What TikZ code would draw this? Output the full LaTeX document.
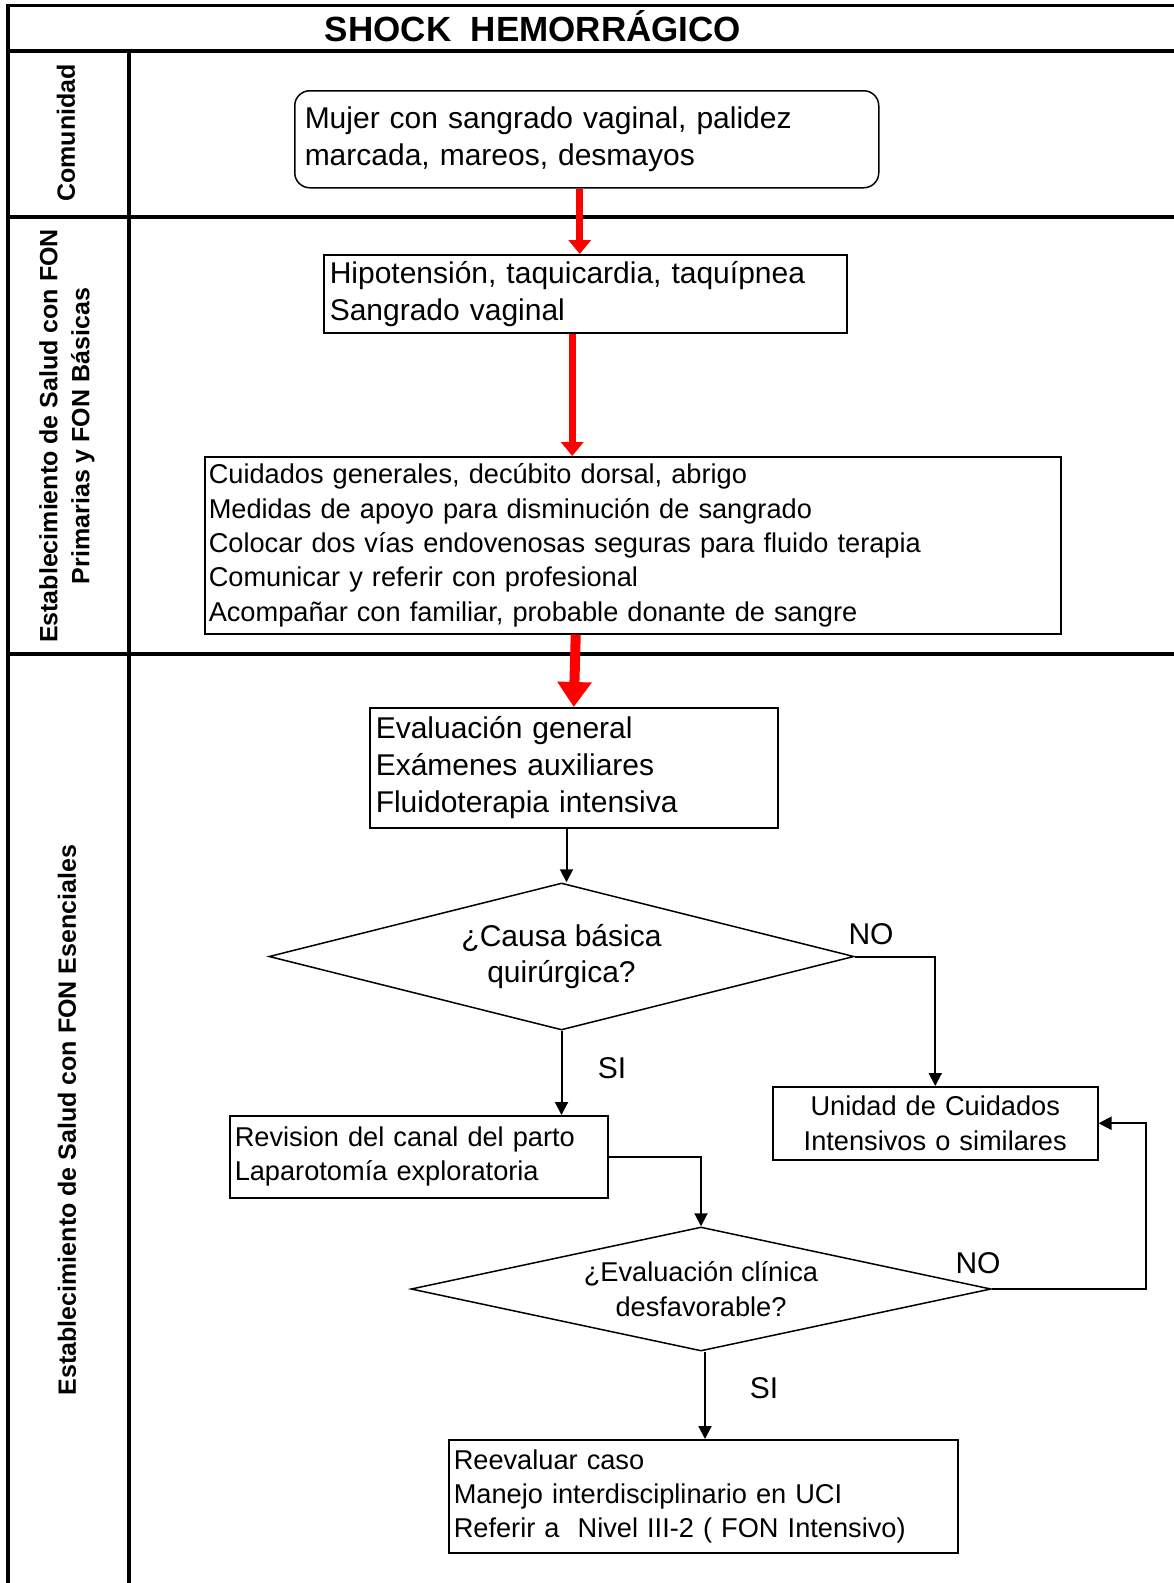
\documentclass[tikz,border=0pt]{standalone}
\usepackage{fontspec}
\setmainfont{Liberation Sans}
\usetikzlibrary{shapes.geometric,arrows.meta,calc}

\tikzset{
	caja/.style={draw, line width=1.5pt, anchor=north west, align=left, inner ysep=2pt, font=\fontsize{30}{37}\selectfont},
	cajachica/.style={caja, font=\fontsize{27.2}{34.3}\selectfont},
	rombo/.style={draw, diamond, line width=1.5pt, inner sep=0pt, align=center},
	roja/.style={draw=red, line width=7pt, -{Triangle[width=22pt,length=14pt]}},
	negra/.style={line width=2pt, -{Triangle[width=13pt,length=13pt]}},
	carril/.style={line width=4pt},
	etiqueta/.style={rotate=90, align=center, font=\bfseries\fontsize{25}{32}\selectfont}
}

\begin{document}
\begin{tikzpicture}[x=1pt,y=-1pt]
				\useasboundingbox (0,0) rectangle (1174,1583);
				\coordinate (SupIzq) at (8,5);
				\coordinate (SupDer) at (1174,5);
				\draw [line width=3pt] (SupIzq) -- (SupDer);% linea superior
				\draw [carril] (8,50.5) -- (1174,50.5);% bajo el titulo
				\draw [carril] (8,3.5) -- (8,1583);% borde izquierdo
				\draw [carril] (129,50.5) -- (129,1583);% columna de etiquetas
				\draw [carril] (8,217) -- (1174,217);
				\draw [carril] (8,654) -- (1174,654);
				
				\node[anchor=base, font=\bfseries\fontsize{35}{40}\selectfont] (titulo) at (533,41) {SHOCK\ \ HEMORRÁGICO};
				
				% etiquetas de los carriles
				\node[etiqueta] (comunidad) at (66,133) {Comunidad};
				\node[etiqueta] (primarias) at (67,436) {Establecimiento de Salud con FON\\Primarias y FON Básicas};
				\node[etiqueta] (esenciales) at (67,1120) {Establecimiento de Salud con FON Esenciales};
				
				% cajas
				\node[caja, rounded corners=15pt, inner xsep=10pt, text width=564pt, minimum height=97pt] (mujer) at (294,90) {Mujer con sangrado vaginal, palidez\\marcada, mareos, desmayos\\[6pt]};
				\node[caja, inner xsep=6pt, text width=511pt, minimum height=78pt] (hipo) at (323,254) {Hipotensión, taquicardia, taquípnea\\Sangrado vaginal};
				\node[cajachica, inner xsep=4pt, text width=848pt, minimum height=177pt] (cuidados) at (204,456) {Cuidados generales, decúbito dorsal, abrigo\\Medidas de apoyo para disminución de sangrado\\Colocar dos vías endovenosas seguras para fluido terapia\\Comunicar y referir con profesional\\Acompañar con familiar, probable donante de sangre};
				\node[caja, inner xsep=6pt, text width=396pt, minimum height=120pt] (evaluacion) at (369,707) {Evaluación general\\Exámenes auxiliares\\Fluidoterapia intensiva};
				\node[rombo, aspect=4, minimum width=585pt, minimum height=147pt, font=\fontsize{30}{36}\selectfont] (causa) at (561.5,956.5) {¿Causa básica\\quirúrgica?};
				\node[cajachica, inner xsep=5pt, text width=368pt, minimum height=82pt] (revision) at (229,1115) {Revision del canal del parto\\Laparotomía exploratoria};
				\node[cajachica, align=center, inner xsep=5pt, text width=315pt, minimum height=73pt] (uci) at (772,1086) {Unidad de Cuidados\\Intensivos o similares};
				\node[rombo, aspect=4.7, minimum width=580pt, minimum height=124pt, font=\fontsize{27.2}{34.3}\selectfont] (clinica) at (701,1289) {¿Evaluación clínica\\desfavorable?};
				\node[cajachica, inner xsep=5pt, text width=499pt, minimum height=113pt] (reevaluar) at (448,1439) {Reevaluar caso\\Manejo interdisciplinario en UCI\\Referir a\ \ Nivel III-2 ( FON Intensivo)};
				
				% flechas rojas
				\draw [roja] ([xshift=-7pt]mujer.south) -- ([xshift=-7pt]mujer.south |- hipo.north);
				\draw [roja] ([xshift=-13pt]hipo.south) -- ([xshift=-13pt]hipo.south |- cuidados.north);
				\draw [roja, line width=10pt, -{Triangle[width=33pt,length=25pt]}] ([xshift=2pt]evaluacion.north |- cuidados.south) -- (evaluacion.north);
				
				% flechas negras
				\draw [negra] ([xshift=5pt]causa.north |- evaluacion.south) -- ([xshift=5pt]causa.north);
				\draw [negra] (causa.east) -| (uci.north);
				\draw [negra] (causa.south) -- (causa.south |- revision.north);
				\draw [negra] (revision.east) -| (clinica.north);
				\draw [negra] (clinica.east) -- ++(154,0) |- (uci.east);
				\draw [negra] ([xshift=4pt]clinica.south) -- ([xshift=4pt]clinica.south |- reevaluar.north);
				
				\node[font=\fontsize{30}{36}\selectfont] (no1) at (871,934) {NO};
				\node[font=\fontsize{30}{36}\selectfont] (si1) at (612,1068) {SI};
				\node[font=\fontsize{30}{36}\selectfont] (no2) at (978,1263) {NO};
				\node[font=\fontsize{30}{36}\selectfont] (si2) at (764,1388) {SI};
\end{tikzpicture}
\end{document}
